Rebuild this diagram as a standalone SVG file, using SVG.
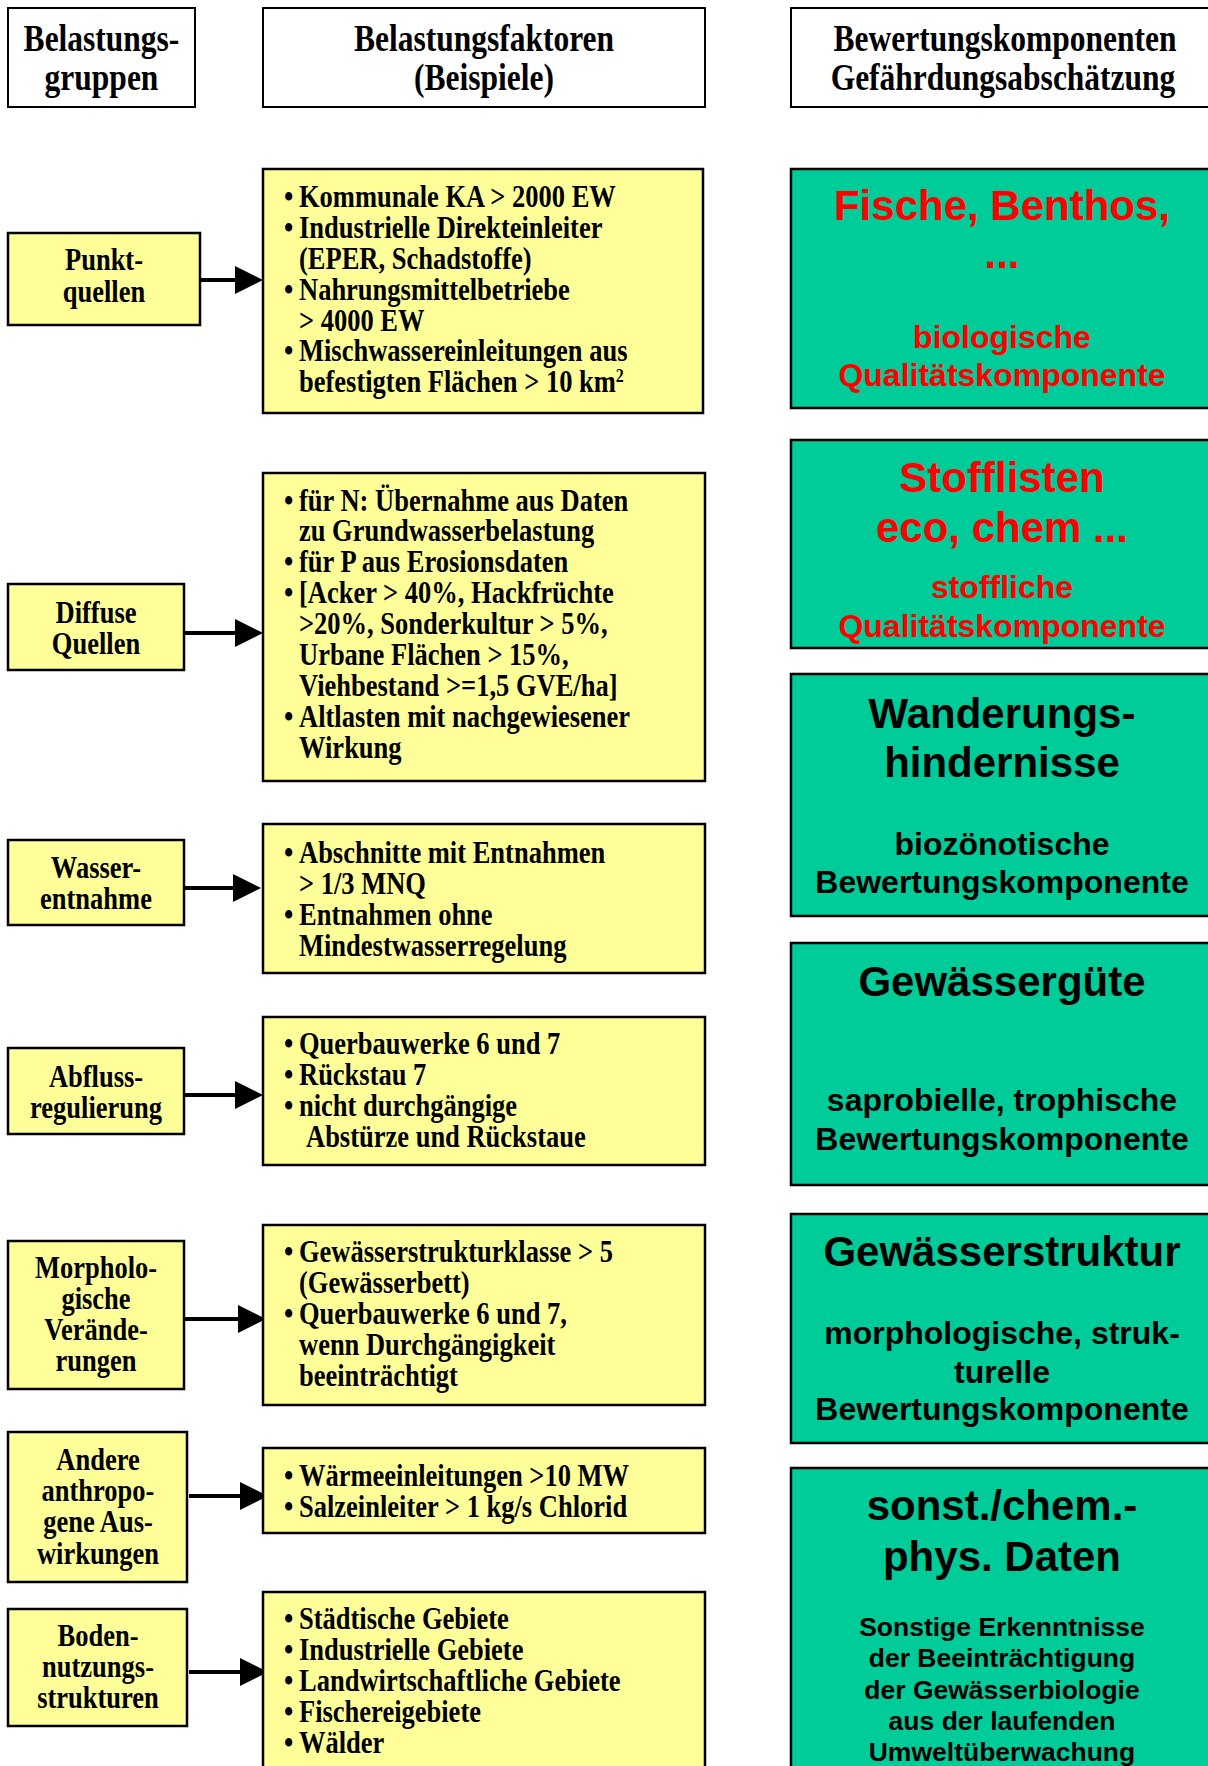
<svg xmlns="http://www.w3.org/2000/svg" width="1208" height="1766" viewBox="0 0 1208 1766">
<style>
.hb{fill:#fff;stroke:#000;stroke-width:2}
.y{fill:#FFFF99;stroke:#000;stroke-width:2.5}
.g{fill:#00CC99;stroke:#000;stroke-width:2.5}
.s{font-family:"Liberation Serif","Times New Roman",serif;font-weight:bold;font-size:26.5px;fill:#000}
.hd{font-size:31.5px}
.c{text-anchor:middle}
.a{font-family:"Liberation Sans",Arial,sans-serif;font-weight:bold;text-anchor:middle;fill:#000}
.t1{font-size:42px}
.t2{font-size:32px}
.t3{font-size:26.5px}
.red{fill:#FF0000}
.ar{stroke:#000;stroke-width:4;fill:none;marker-end:url(#ah)}
</style>
<defs>
<marker id="ah" markerUnits="userSpaceOnUse" markerWidth="28" markerHeight="28" refX="14" refY="14" orient="auto">
<path d="M0,0 L28,14 L0,28 Z" fill="#000"/>
</marker>
<clipPath id="clipB"><rect x="791" y="440" width="430" height="207"/></clipPath>
</defs>

<g id="header1">
<rect class="hb" x="8" y="8" width="187" height="99"/>
<g transform="translate(0,51) scale(1,1.2)"><text class="s hd c" x="101.5" y="0">Belastungs-</text><text class="s hd c" x="101.5" y="32.5">gruppen</text></g>
</g>
<g id="header2">
<rect class="hb" x="263" y="8" width="442" height="99"/>
<g transform="translate(0,51) scale(1,1.2)"><text class="s hd c" x="484" y="0">Belastungsfaktoren</text><text class="s hd c" x="484" y="32.5">(Beispiele)</text></g>
</g>
<g id="header3">
<rect class="hb" x="791" y="8" width="430" height="99"/>
<g transform="translate(0,51) scale(1,1.2)"><text class="s hd c" x="1005" y="0">Bewertungskomponenten</text><text class="s hd c" x="1003" y="32.5">Gefährdungsabschätzung</text></g>
</g>

<g id="connectors">
<line class="ar" x1="200" y1="280" x2="249" y2="280"/>
<line class="ar" x1="184" y1="633" x2="249" y2="633"/>
<line class="ar" x1="184" y1="888" x2="247" y2="888"/>
<line class="ar" x1="184" y1="1095" x2="249" y2="1095"/>
<line class="ar" x1="184" y1="1319" x2="252" y2="1319"/>
<line class="ar" x1="189" y1="1496" x2="254" y2="1496"/>
<line class="ar" x1="189" y1="1672" x2="254" y2="1672"/>
</g>

<g id="g1">
<rect class="y" x="8" y="233" width="192" height="92"/>
<g transform="translate(0,270) scale(1,1.2)"><text class="s c" x="104" y="0">Punkt-</text><text class="s c" x="104" y="26.5">quellen</text></g>
</g>
<g id="g2">
<rect class="y" x="8" y="584" width="176" height="86"/>
<g transform="translate(0,623) scale(1,1.2)"><text class="s c" x="96" y="0">Diffuse</text><text class="s c" x="96" y="26">Quellen</text></g>
</g>
<g id="g3">
<rect class="y" x="8" y="840" width="176" height="85"/>
<g transform="translate(0,878) scale(1,1.2)"><text class="s c" x="96" y="0">Wasser-</text><text class="s c" x="96" y="26">entnahme</text></g>
</g>
<g id="g4">
<rect class="y" x="8" y="1048" width="176" height="86"/>
<g transform="translate(0,1087) scale(1,1.2)"><text class="s c" x="96" y="0">Abfluss-</text><text class="s c" x="96" y="25.5">regulierung</text></g>
</g>
<g id="g5">
<rect class="y" x="8" y="1241" width="176" height="148"/>
<g transform="translate(0,1278) scale(1,1.2)"><text class="s c" x="96" y="0">Morpholo-</text><text class="s c" x="96" y="25.8">gische</text><text class="s c" x="96" y="51.6">Verände-</text><text class="s c" x="96" y="77.4">rungen</text></g>
</g>
<g id="g6">
<rect class="y" x="8" y="1432" width="179" height="150"/>
<g transform="translate(0,1470) scale(1,1.2)"><text class="s c" x="98" y="0">Andere</text><text class="s c" x="98" y="26">anthropo-</text><text class="s c" x="98" y="52">gene Aus-</text><text class="s c" x="98" y="78">wirkungen</text></g>
</g>
<g id="g7">
<rect class="y" x="8" y="1609" width="179" height="117"/>
<g transform="translate(0,1646) scale(1,1.2)"><text class="s c" x="98" y="0">Boden-</text><text class="s c" x="98" y="26">nutzungs-</text><text class="s c" x="98" y="51.5">strukturen</text></g>
</g>

<g id="f1">
<rect class="y" x="263" y="169" width="440" height="244"/>
<g transform="translate(0,207) scale(1,1.2)">
<text class="s" x="284" y="0">•</text><text class="s" x="299" y="0">Kommunale KA &gt; 2000 EW</text>
<text class="s" x="284" y="25.75">•</text><text class="s" x="299" y="25.75">Industrielle Direkteinleiter</text>
<text class="s" x="299" y="51.5">(EPER, Schadstoffe)</text>
<text class="s" x="284" y="77.25">•</text><text class="s" x="299" y="77.25">Nahrungsmittelbetriebe</text>
<text class="s" x="299" y="103">&gt; 4000 EW</text>
<text class="s" x="284" y="128.75">•</text><text class="s" x="299" y="128.75">Mischwassereinleitungen aus</text>
<text class="s" x="299" y="154.5">befestigten Flächen &gt; 10 km<tspan dy="-9" font-size="16">2</tspan></text>
</g>
</g>
<g id="f2">
<rect class="y" x="263" y="473" width="442" height="308"/>
<g transform="translate(0,510.5) scale(1,1.2)">
<text class="s" x="284" y="0">•</text><text class="s" x="299" y="0">für N: Übernahme aus Daten</text>
<text class="s" x="299" y="25.75">zu Grundwasserbelastung</text>
<text class="s" x="284" y="51.5">•</text><text class="s" x="299" y="51.5">für P aus Erosionsdaten</text>
<text class="s" x="284" y="77.25">•</text><text class="s" x="299" y="77.25">[Acker &gt; 40%, Hackfrüchte</text>
<text class="s" x="299" y="103">&gt;20%, Sonderkultur &gt; 5%,</text>
<text class="s" x="299" y="128.75">Urbane Flächen &gt; 15%,</text>
<text class="s" x="299" y="154.5">Viehbestand &gt;=1,5 GVE/ha]</text>
<text class="s" x="284" y="180.25">•</text><text class="s" x="299" y="180.25">Altlasten mit nachgewiesener</text>
<text class="s" x="299" y="206">Wirkung</text>
</g>
</g>
<g id="f3">
<rect class="y" x="263" y="824" width="442" height="149"/>
<g transform="translate(0,863) scale(1,1.2)">
<text class="s" x="284" y="0">•</text><text class="s" x="299" y="0">Abschnitte mit Entnahmen</text>
<text class="s" x="299" y="25.75">&gt; 1/3 MNQ</text>
<text class="s" x="284" y="51.5">•</text><text class="s" x="299" y="51.5">Entnahmen ohne</text>
<text class="s" x="299" y="77.25">Mindestwasserregelung</text>
</g>
</g>
<g id="f4">
<rect class="y" x="263" y="1017" width="442" height="148"/>
<g transform="translate(0,1054) scale(1,1.2)">
<text class="s" x="284" y="0">•</text><text class="s" x="299" y="0">Querbauwerke 6 und 7</text>
<text class="s" x="284" y="25.75">•</text><text class="s" x="299" y="25.75">Rückstau 7</text>
<text class="s" x="284" y="51.5">•</text><text class="s" x="299" y="51.5">nicht durchgängige</text>
<text class="s" x="306" y="77.25">Abstürze und Rückstaue</text>
</g>
</g>
<g id="f5">
<rect class="y" x="263" y="1225" width="442" height="180"/>
<g transform="translate(0,1262) scale(1,1.2)">
<text class="s" x="284" y="0">•</text><text class="s" x="299" y="0">Gewässerstrukturklasse &gt; 5</text>
<text class="s" x="299" y="25.75">(Gewässerbett)</text>
<text class="s" x="284" y="51.5">•</text><text class="s" x="299" y="51.5">Querbauwerke 6 und 7,</text>
<text class="s" x="299" y="77.25">wenn Durchgängigkeit</text>
<text class="s" x="299" y="103">beeinträchtigt</text>
</g>
</g>
<g id="f6">
<rect class="y" x="263" y="1448" width="442" height="85"/>
<g transform="translate(0,1486) scale(1,1.2)">
<text class="s" x="284" y="0">•</text><text class="s" x="299" y="0">Wärmeeinleitungen &gt;10 MW</text>
<text class="s" x="284" y="25.75">•</text><text class="s" x="299" y="25.75">Salzeinleiter &gt; 1 kg/s Chlorid</text>
</g>
</g>
<g id="f7">
<rect class="y" x="263" y="1592" width="442" height="190"/>
<g transform="translate(0,1629) scale(1,1.2)">
<text class="s" x="284" y="0">•</text><text class="s" x="299" y="0">Städtische Gebiete</text>
<text class="s" x="284" y="25.75">•</text><text class="s" x="299" y="25.75">Industrielle Gebiete</text>
<text class="s" x="284" y="51.5">•</text><text class="s" x="299" y="51.5">Landwirtschaftliche Gebiete</text>
<text class="s" x="284" y="77.25">•</text><text class="s" x="299" y="77.25">Fischereigebiete</text>
<text class="s" x="284" y="103">•</text><text class="s" x="299" y="103">Wälder</text>
</g>
</g>

<g id="k1">
<rect class="g" x="791" y="169" width="430" height="239"/>
<text class="a t1 red" x="1002" y="220">Fische, Benthos,</text>
<text class="a t1 red" x="1002" y="268">...</text>
<text class="a t2 red" x="1002" y="348">biologische</text>
<text class="a t2 red" x="1002" y="386">Qualitätskomponente</text>
</g>
<g id="k2">
<rect class="g" x="791" y="440" width="430" height="208"/>
<g clip-path="url(#clipB)">
<text class="a t1 red" x="1002" y="492">Stofflisten</text>
<text class="a t1 red" x="1002" y="542">eco, chem ...</text>
<text class="a t2 red" x="1002" y="598">stoffliche</text>
<text class="a t2 red" x="1002" y="637">Qualitätskomponente</text>
</g>
</g>
<g id="k3">
<rect class="g" x="791" y="674" width="430" height="242"/>
<text class="a t1" x="1002" y="728">Wanderungs-</text>
<text class="a t1" x="1002" y="777">hindernisse</text>
<text class="a t2" x="1002" y="855">biozönotische</text>
<text class="a t2" x="1002" y="893">Bewertungskomponente</text>
</g>
<g id="k4">
<rect class="g" x="791" y="943" width="430" height="242"/>
<text class="a t1" x="1002" y="996">Gewässergüte</text>
<text class="a t2" x="1002" y="1111">saprobielle, trophische</text>
<text class="a t2" x="1002" y="1150">Bewertungskomponente</text>
</g>
<g id="k5">
<rect class="g" x="791" y="1214" width="430" height="229"/>
<text class="a t1" x="1002" y="1266">Gewässerstruktur</text>
<text class="a t2" x="1002" y="1344">morphologische, struk-</text>
<text class="a t2" x="1002" y="1383">turelle</text>
<text class="a t2" x="1002" y="1420">Bewertungskomponente</text>
</g>
<g id="k6">
<rect class="g" x="791" y="1468" width="430" height="320"/>
<text class="a t1" x="1002" y="1520">sonst./chem.-</text>
<text class="a t1" x="1002" y="1571">phys. Daten</text>
<text class="a t3" x="1002" y="1636">Sonstige Erkenntnisse</text>
<text class="a t3" x="1002" y="1667">der Beeinträchtigung</text>
<text class="a t3" x="1002" y="1699">der Gewässerbiologie</text>
<text class="a t3" x="1002" y="1730">aus der laufenden</text>
<text class="a t3" x="1002" y="1761">Umweltüberwachung</text>
</g>
</svg>
